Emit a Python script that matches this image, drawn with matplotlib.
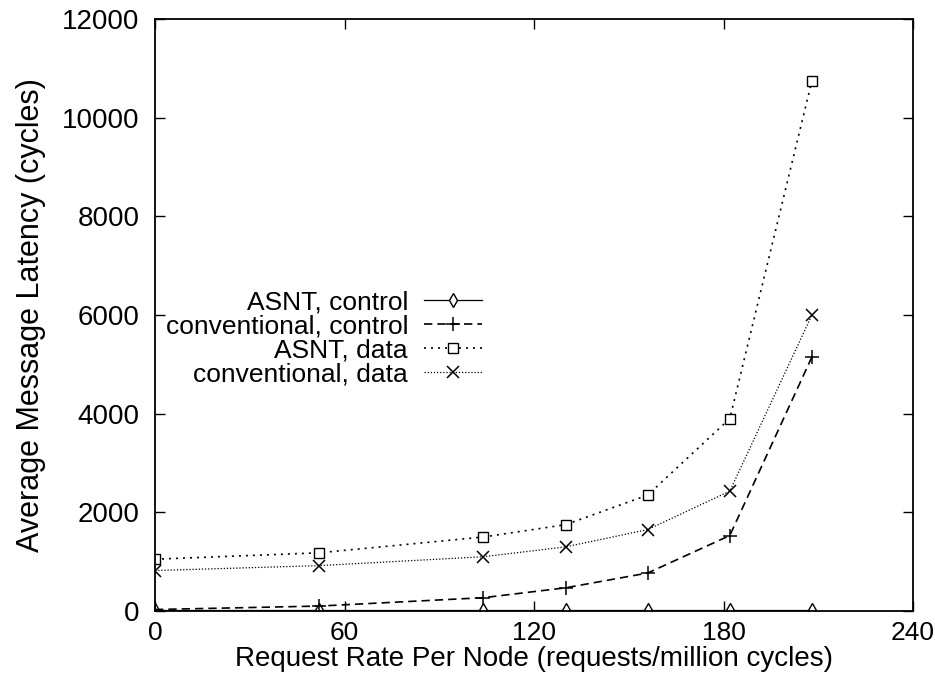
import matplotlib
matplotlib.use("Agg")
import matplotlib.pyplot as plt

plt.rcParams['font.family'] = ['Liberation Sans', 'DejaVu Sans']

# request rate per node (requests/million cycles)
rate = [0, 52, 104, 130, 156, 182, 208]

asnt_control = [30, 30, 30, 30, 30, 30, 30]
conv_control = [30, 100, 270, 470, 770, 1530, 5150]
asnt_data = [1050, 1180, 1500, 1750, 2350, 3900, 10750]
conv_data = [820, 920, 1100, 1300, 1650, 2430, 6000]

labels = ["ASNT, control", "conventional, control", "ASNT, data", "conventional, data"]

xticks = [0, 60, 120, 180, 240]
yticks = [0, 2000, 4000, 6000, 8000, 10000, 12000]

fig = plt.figure(figsize=(9.35, 6.8), dpi=100)
ax = fig.add_axes([155/935, 69/680, 758/935, 592/680])

ax.plot(rate, asnt_control, color='black', lw=0.9, ls='-',
        marker='d', ms=7, mfc='white', mec='black', mew=1.0, label=labels[0])
ax.plot(rate, conv_control, color='black', lw=1.2, ls=(0, (5, 3)),
        marker='+', ms=10, mew=1.1, label=labels[1])
ax.plot(rate, asnt_data, color='black', lw=1.2, ls=(0, (1.2, 3)),
        marker='s', ms=7, mfc='white', mec='black', mew=1.0, label=labels[2])
ax.plot(rate, conv_data, color='black', lw=0.9, ls=(0, (1, 1.5)),
        marker='x', ms=8, mew=1.1, label=labels[3])

ax.set_xlim(0, 240)
ax.set_ylim(0, 12000)
ax.set_xticks(xticks)
ax.set_yticks(yticks)
ax.tick_params(direction='in', top=True, right=True, length=7, width=1,
               labelsize=20)
ax.tick_params(axis='x', pad=7, labelsize=19)
ax.tick_params(axis='y', pad=11)
for s in ax.spines.values():
    s.set_linewidth(1.3)

ax.set_xlabel("Request Rate Per Node (requests/million cycles)", fontsize=20, labelpad=1)
ax.set_ylabel("Average Message Latency (cycles)", fontsize=22, labelpad=12)

ax.legend(loc='upper left', bbox_to_anchor=(0.0, 0.56), frameon=False,
          markerfirst=False, fontsize=19, handlelength=2.2, labelspacing=0.0,
          handletextpad=0.6, borderaxespad=0)

fig.savefig("out.png", dpi=100)
